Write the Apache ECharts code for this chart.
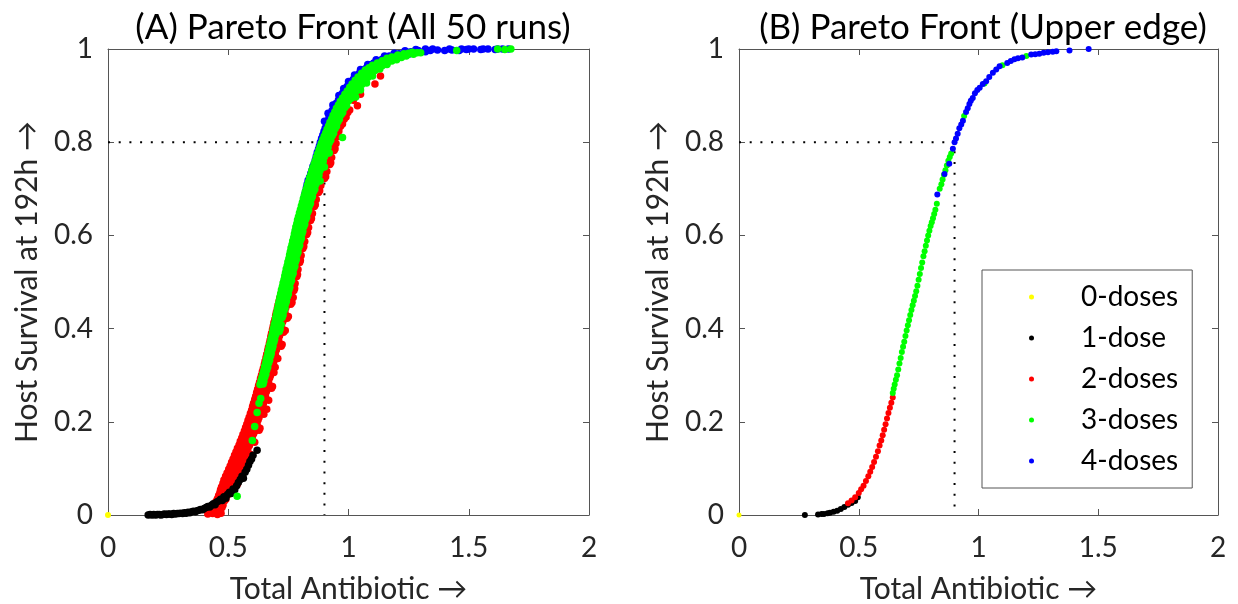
<!DOCTYPE html>
<html>
<head>
<meta charset="utf-8">
<script src="https://cdn.jsdelivr.net/npm/echarts@6/dist/echarts.min.js"></script>
<style>
html,body{margin:0;padding:0;background:#fff;}
#chart{width:1238px;height:604px;}
</style>
</head>
<body>
<div id="chart"></div>
<script>
// ---------- Data ----------
const seriesNames = ['0-doses', '1-dose', '2-doses', '3-doses', '4-doses'];
const titleA = '(A) Pareto Front (All 50 runs)';
const titleB = '(B) Pareto Front (Upper edge)';
const xAxisName = 'Total Antibiotic \u2192';
const yAxisName = 'Host Survival at 192h \u2192';
const xTicks = [0, 0.5, 1, 1.5, 2];
const yTicks = [0, 0.2, 0.4, 0.6, 0.8, 1];
const refX = 0.9;
const refY = 0.8;

// Panel A (all runs)
const leftZero = [[0, 0]];
const leftOne = [
  [0.167,0.000],[0.175,0.001],[0.183,0.000],[0.19,0.001],[0.198,0.000],[0.205,0.001],[0.213,0.001],[0.22,0.000],
  [0.228,0.001],[0.235,0.002],[0.243,0.001],[0.25,0.002],[0.258,0.002],[0.265,0.001],[0.273,0.003],[0.28,0.002],
  [0.288,0.003],[0.295,0.003],[0.303,0.004],[0.31,0.003],[0.318,0.005],[0.325,0.004],[0.333,0.006],[0.34,0.005],
  [0.348,0.007],[0.355,0.008],[0.363,0.007],[0.37,0.009],[0.378,0.010],[0.385,0.012],[0.393,0.011],[0.40,0.014],
  [0.408,0.016],[0.415,0.018],[0.423,0.017],[0.43,0.021],[0.438,0.024],[0.445,0.022],[0.452,0.028],[0.46,0.030],
  [0.468,0.034],[0.475,0.031],[0.482,0.039],[0.49,0.036],[0.497,0.044],[0.505,0.049],[0.512,0.046],[0.52,0.056],
  [0.527,0.054],[0.535,0.063],[0.542,0.07],[0.55,0.076],[0.557,0.083],[0.563,0.079],[0.57,0.092],[0.577,0.098],
  [0.584,0.107],[0.59,0.115],[0.597,0.12],[0.603,0.128],[0.62,0.139]
];
const leftTwo = [
  [0.415,0.002],[0.435,0.003],[0.455,0.001],[0.47,0.004],
  [0.43,0.012],[0.45,0.013],[0.468,0.011],
  [0.44,0.022],[0.46,0.023],[0.478,0.021],
  [0.455,0.035],[0.472,0.036],[0.49,0.034],
  [0.465,0.048],[0.485,0.049],[0.503,0.047],
  [0.472,0.06],[0.495,0.061],[0.515,0.059],
  [0.482,0.075],[0.505,0.076],[0.528,0.074],[0.545,0.077],
  [0.495,0.09],[0.518,0.091],[0.54,0.089],
  [0.508,0.105],[0.53,0.106],[0.552,0.104],
  [0.52,0.12],[0.542,0.121],[0.565,0.119],[0.585,0.122],
  [0.532,0.135],[0.553,0.136],[0.575,0.134],
  [0.545,0.15],[0.565,0.151],[0.588,0.149],
  [0.556,0.165],[0.577,0.166],[0.6,0.164],
  [0.567,0.18],[0.588,0.181],[0.61,0.179],[0.628,0.182],
  [0.577,0.195],[0.598,0.196],[0.62,0.194],
  [0.587,0.21],[0.607,0.211],[0.628,0.209],
  [0.597,0.225],[0.617,0.226],[0.637,0.224],[0.66,0.227],
  [0.605,0.24],[0.625,0.241],[0.646,0.239],
  [0.614,0.255],[0.634,0.256],[0.655,0.254],
  [0.622,0.27],[0.642,0.271],[0.662,0.269],[0.68,0.272],
  [0.63,0.285],[0.65,0.286],[0.668,0.284],
  [0.638,0.30],[0.657,0.301],[0.675,0.299],
  [0.646,0.315],[0.664,0.316],[0.682,0.314],[0.695,0.317],
  [0.653,0.33],[0.671,0.331],[0.689,0.329],
  [0.66,0.345],[0.678,0.346],[0.696,0.344],
  [0.667,0.36],[0.685,0.361],[0.703,0.359],[0.72,0.362],
  [0.674,0.375],[0.692,0.376],[0.71,0.374],
  [0.68,0.39],[0.698,0.391],[0.716,0.389],[0.73,0.392],
  [0.687,0.405],[0.705,0.406],[0.722,0.404],
  [0.694,0.42],[0.712,0.421],[0.73,0.419],[0.745,0.422],
  [0.7,0.435],[0.718,0.436],[0.736,0.434],
  [0.707,0.45],[0.725,0.451],[0.742,0.449],[0.76,0.452],
  [0.714,0.465],[0.732,0.466],[0.75,0.464],[0.77,0.467],
  [0.722,0.48],[0.74,0.481],[0.757,0.479],[0.773,0.482],
  [0.73,0.495],[0.748,0.496],[0.764,0.494],[0.778,0.497],
  [0.738,0.51],[0.756,0.511],[0.771,0.509],[0.785,0.512],
  [0.746,0.525],[0.763,0.526],[0.778,0.524],[0.79,0.527],
  [0.755,0.54],[0.77,0.541],[0.784,0.539],[0.797,0.542],
  [0.763,0.555],[0.777,0.556],[0.79,0.554],[0.803,0.557],
  [0.77,0.57],[0.784,0.571],[0.797,0.569],[0.81,0.572],
  [0.777,0.585],[0.791,0.586],[0.804,0.584],[0.818,0.587],
  [0.784,0.60],[0.798,0.601],[0.812,0.599],[0.826,0.602],
  [0.792,0.615],[0.806,0.616],[0.82,0.614],[0.834,0.617],
  [0.8,0.63],[0.814,0.631],[0.828,0.629],[0.842,0.632],
  [0.808,0.645],[0.822,0.646],[0.836,0.644],[0.85,0.647],
  [0.816,0.66],[0.83,0.661],[0.844,0.659],[0.858,0.662],
  [0.824,0.675],[0.838,0.676],[0.852,0.674],[0.866,0.677],
  [0.833,0.69],[0.847,0.691],[0.861,0.689],[0.875,0.692],
  [0.842,0.705],[0.856,0.706],[0.87,0.704],[0.885,0.707],
  [0.852,0.72],[0.866,0.721],[0.88,0.719],[0.9,0.722],
  [0.862,0.735],[0.876,0.736],[0.89,0.734],[0.91,0.737],
  [0.872,0.75],[0.886,0.751],[0.9,0.749],[0.922,0.752],
  [0.882,0.765],[0.896,0.766],[0.91,0.764],[0.93,0.767],
  [0.893,0.78],[0.907,0.781],[0.92,0.779],[0.94,0.782],
  [0.905,0.795],[0.918,0.796],[0.93,0.794],[0.948,0.797],
  [0.918,0.81],[0.93,0.811],[0.943,0.809],[0.958,0.812],
  [0.93,0.825],[0.945,0.826],[0.96,0.824],
  [0.945,0.84],[0.96,0.841],[0.975,0.839],
  [0.96,0.855],[0.975,0.856],[0.99,0.854],
  [0.975,0.87],[0.99,0.871],[1.005,0.869],
  [1.02,0.89],[1.037,0.878],[1.05,0.903],[1.11,0.925],[1.133,0.942],
  [0.425,0.006],[0.447,0.008],[0.462,0.005],
  [0.437,0.017],[0.458,0.018],[0.474,0.016],
  [0.449,0.029],[0.466,0.028],[0.484,0.03],
  [0.46,0.042],[0.479,0.041],[0.497,0.043],
  [0.468,0.054],[0.49,0.055],[0.509,0.053],
  [0.478,0.068],[0.5,0.067],[0.52,0.069],[0.538,0.066],
  [0.489,0.083],[0.512,0.084],[0.534,0.082],
  [0.502,0.098],[0.524,0.099],[0.546,0.097],[0.563,0.1],
  [0.514,0.113],[0.536,0.112],[0.558,0.114],
  [0.526,0.128],[0.548,0.127],[0.57,0.129],[0.59,0.131],
  [0.538,0.143],[0.56,0.142],[0.582,0.144],
  [0.55,0.158],[0.571,0.157],[0.594,0.159],[0.61,0.156],
  [0.561,0.173],[0.583,0.172],[0.605,0.174],
  [0.572,0.188],[0.593,0.187],[0.615,0.189],[0.632,0.186],
  [0.582,0.203],[0.602,0.202],[0.624,0.204],
  [0.592,0.218],[0.612,0.217],[0.633,0.219],[0.648,0.216],
  [0.601,0.233],[0.621,0.232],[0.642,0.234],
  [0.61,0.248],[0.63,0.247],[0.65,0.249],[0.668,0.246],
  [0.618,0.263],[0.638,0.262],[0.658,0.264],
  [0.626,0.278],[0.646,0.277],[0.665,0.279],[0.684,0.276],
  [0.634,0.293],[0.654,0.292],[0.672,0.294],
  [0.642,0.308],[0.66,0.307],[0.679,0.309],[0.69,0.306],
  [0.65,0.323],[0.668,0.322],[0.686,0.324],
  [0.657,0.338],[0.675,0.337],[0.693,0.339],[0.706,0.336],
  [0.664,0.353],[0.682,0.352],[0.7,0.354],
  [0.671,0.368],[0.689,0.367],[0.707,0.369],[0.724,0.366],
  [0.677,0.383],[0.695,0.382],[0.713,0.384],
  [0.684,0.398],[0.702,0.397],[0.719,0.399],[0.737,0.396],
  [0.69,0.413],[0.708,0.412],[0.726,0.414],
  [0.697,0.428],[0.715,0.427],[0.733,0.429],[0.75,0.426],
  [0.704,0.443],[0.722,0.442],[0.739,0.444],
  [0.711,0.458],[0.729,0.457],[0.746,0.459],[0.765,0.456],
  [0.718,0.473],[0.736,0.472],[0.753,0.474],
  [0.726,0.488],[0.744,0.487],[0.761,0.489],[0.776,0.486],
  [0.734,0.503],[0.752,0.502],[0.768,0.504],
  [0.742,0.518],[0.76,0.517],[0.775,0.519],[0.788,0.516],
  [0.75,0.533],[0.767,0.532],[0.781,0.534],
  [0.759,0.548],[0.774,0.547],[0.787,0.549],[0.8,0.546],
  [0.767,0.563],[0.781,0.562],[0.794,0.564],
  [0.774,0.578],[0.788,0.577],[0.801,0.579],[0.814,0.576],
  [0.781,0.593],[0.795,0.592],[0.808,0.594],
  [0.788,0.608],[0.802,0.607],[0.816,0.609],[0.83,0.606],
  [0.796,0.623],[0.81,0.622],[0.824,0.624],
  [0.804,0.638],[0.818,0.637],[0.832,0.639],[0.846,0.636],
  [0.812,0.653],[0.826,0.652],[0.84,0.654],
  [0.82,0.668],[0.834,0.667],[0.848,0.669],[0.862,0.666],
  [0.829,0.683],[0.843,0.682],[0.857,0.684],
  [0.838,0.698],[0.852,0.697],[0.866,0.699],[0.88,0.696],
  [0.847,0.713],[0.861,0.712],[0.875,0.714],
  [0.857,0.728],[0.871,0.727],[0.885,0.729],[0.905,0.726],
  [0.867,0.743],[0.881,0.742],[0.895,0.744],
  [0.877,0.758],[0.891,0.757],[0.905,0.759],[0.926,0.756],
  [0.888,0.773],[0.902,0.772],[0.915,0.774],
  [0.899,0.788],[0.912,0.787],[0.925,0.789],[0.944,0.786],
  [0.911,0.803],[0.924,0.802],[0.937,0.804],
  [0.924,0.818],[0.937,0.817],[0.95,0.819],
  [0.938,0.833],[0.952,0.832],[0.967,0.834],
  [0.952,0.848],[0.967,0.847],[0.982,0.849],
  [0.968,0.863],[0.982,0.862],[0.997,0.864]
];
const leftThree = [
  [0.537,0.04],[0.6,0.16],[0.61,0.19],[0.62,0.22],[0.628,0.24],[0.635,0.25],
  [0.632,0.28],[0.645,0.281],[0.64,0.295],[0.652,0.296],[0.648,0.31],[0.66,0.311],
  [0.655,0.325],[0.668,0.326],[0.662,0.34],[0.676,0.341],[0.668,0.355],[0.683,0.356],
  [0.675,0.37],[0.69,0.371],[0.682,0.385],[0.697,0.386],
  [0.688,0.40],[0.704,0.401],[0.716,0.399],[0.695,0.415],[0.71,0.416],
  [0.7,0.43],[0.716,0.431],[0.728,0.429],[0.706,0.445],[0.722,0.446],[0.736,0.444],
  [0.712,0.46],[0.728,0.461],[0.742,0.459],[0.718,0.475],[0.735,0.476],[0.75,0.474],
  [0.725,0.49],[0.742,0.491],[0.756,0.489],[0.732,0.505],[0.749,0.506],[0.763,0.504],
  [0.738,0.52],[0.755,0.521],[0.77,0.519],[0.745,0.535],[0.762,0.536],[0.777,0.534],
  [0.752,0.55],[0.768,0.551],[0.783,0.549],[0.758,0.565],[0.775,0.566],[0.79,0.564],
  [0.765,0.58],[0.781,0.581],[0.797,0.579],[0.772,0.595],[0.788,0.596],[0.804,0.594],
  [0.778,0.61],[0.795,0.611],[0.81,0.609],[0.785,0.625],[0.802,0.626],[0.818,0.624],
  [0.792,0.64],[0.809,0.641],[0.826,0.639],[0.8,0.655],[0.817,0.656],[0.834,0.654],
  [0.808,0.67],[0.825,0.671],[0.842,0.669],[0.816,0.685],[0.833,0.686],[0.85,0.684],
  [0.825,0.70],[0.842,0.701],[0.86,0.699],
  [0.834,0.715],[0.851,0.716],[0.868,0.714],[0.882,0.717],
  [0.843,0.73],[0.86,0.731],[0.877,0.729],
  [0.852,0.745],[0.869,0.746],[0.886,0.744],[0.9,0.747],
  [0.862,0.76],[0.879,0.761],[0.895,0.759],
  [0.872,0.775],[0.889,0.776],[0.905,0.774],[0.92,0.777],
  [0.882,0.79],[0.899,0.791],[0.915,0.789],
  [0.893,0.805],[0.91,0.806],[0.926,0.804],
  [0.905,0.82],[0.921,0.821],[0.938,0.819],
  [0.917,0.835],[0.933,0.836],[0.95,0.834],
  [0.93,0.85],[0.946,0.851],[0.962,0.849],
  [0.943,0.865],[0.96,0.866],[0.976,0.864],
  [0.958,0.88],[0.975,0.881],[0.992,0.879],
  [0.975,0.895],[0.992,0.896],[1.01,0.894],[1.03,0.897],
  [0.995,0.91],[1.012,0.911],[1.03,0.909],[1.05,0.912],
  [1.015,0.925],[1.035,0.926],[1.055,0.924],[1.075,0.927],
  [1.04,0.94],[1.06,0.941],[1.08,0.939],[1.1,0.942],
  [1.07,0.955],[1.09,0.956],[1.11,0.954],[1.13,0.957],
  [1.1,0.965],[1.12,0.966],[1.14,0.964],[1.16,0.967],
  [1.14,0.975],[1.16,0.976],[1.18,0.974],[1.2,0.977],
  [1.18,0.983],[1.2,0.984],[1.22,0.982],[1.24,0.985],
  [1.23,0.99],[1.25,0.991],[1.27,0.989],[1.3,0.992],
  [1.45,0.997],[1.62,1.0],[1.65,0.999],[1.675,1.0],
  [0.975,0.81],[0.94,0.83],
  [0.636,0.288],[0.648,0.287],[0.644,0.303],[0.656,0.302],[0.651,0.318],[0.664,0.317],
  [0.658,0.333],[0.672,0.332],[0.665,0.348],[0.679,0.347],[0.671,0.363],[0.686,0.362],
  [0.678,0.378],[0.693,0.377],[0.685,0.393],[0.7,0.392],[0.712,0.394],
  [0.691,0.408],[0.707,0.407],[0.72,0.409],[0.697,0.423],[0.713,0.422],[0.724,0.424],
  [0.703,0.438],[0.719,0.437],[0.732,0.439],[0.709,0.453],[0.725,0.452],[0.739,0.454],
  [0.715,0.468],[0.731,0.467],[0.746,0.469],[0.721,0.483],[0.738,0.482],[0.753,0.484],
  [0.728,0.498],[0.745,0.497],[0.759,0.499],[0.735,0.513],[0.752,0.512],[0.766,0.514],
  [0.741,0.528],[0.758,0.527],[0.773,0.529],[0.748,0.543],[0.765,0.542],[0.78,0.544],
  [0.755,0.558],[0.771,0.557],[0.786,0.559],[0.761,0.573],[0.778,0.572],[0.793,0.574],
  [0.768,0.588],[0.784,0.587],[0.8,0.589],[0.775,0.603],[0.791,0.602],[0.807,0.604],
  [0.781,0.618],[0.798,0.617],[0.814,0.619],[0.788,0.633],[0.805,0.632],[0.822,0.634],
  [0.796,0.648],[0.813,0.647],[0.83,0.649],[0.804,0.663],[0.821,0.662],[0.838,0.664],
  [0.812,0.678],[0.829,0.677],[0.846,0.679],[0.82,0.693],[0.837,0.692],[0.855,0.694],
  [0.829,0.708],[0.846,0.707],[0.864,0.709],[0.838,0.723],[0.855,0.722],[0.872,0.724],
  [0.847,0.738],[0.864,0.737],[0.881,0.739],[0.857,0.753],[0.874,0.752],[0.89,0.754],
  [0.867,0.768],[0.884,0.767],[0.9,0.769],[0.877,0.783],[0.894,0.782],[0.91,0.784],
  [0.887,0.798],[0.904,0.797],[0.92,0.799],[0.899,0.813],[0.915,0.812],[0.932,0.814],
  [0.911,0.828],[0.927,0.827],[0.944,0.829],[0.923,0.843],[0.94,0.842],[0.956,0.844],
  [0.936,0.858],[0.953,0.857],[0.969,0.859],[0.95,0.873],[0.967,0.872],[0.984,0.874],
  [0.966,0.888],[0.983,0.887],[1.0,0.889],[0.985,0.903],[1.002,0.902],[1.02,0.904],
  [1.005,0.918],[1.024,0.917],[1.043,0.919],[1.028,0.933],[1.048,0.932],[1.068,0.934],
  [1.055,0.948],[1.075,0.947],[1.095,0.949],[1.085,0.96],[1.105,0.961],[1.125,0.959],
  [1.12,0.97],[1.14,0.971],[1.16,0.969],[1.16,0.98],[1.18,0.979],[1.2,0.981],
  [1.205,0.987],[1.225,0.986],[1.245,0.988],[1.265,0.993],[1.285,0.992]
];
const leftFour = [
  [0.8,0.638],[0.803,0.65],[0.81,0.665],[0.815,0.68],[0.822,0.695],[0.828,0.71],[0.838,0.725],[0.848,0.74],
  [0.858,0.755],[0.868,0.756],[0.866,0.77],[0.876,0.771],[0.875,0.785],[0.886,0.786],
  [0.883,0.80],[0.895,0.801],[0.893,0.815],[0.905,0.816],[0.903,0.83],[0.915,0.831],
  [0.913,0.845],[0.926,0.846],[0.925,0.86],[0.938,0.861],
  [0.94,0.875],[0.953,0.876],[0.965,0.874],
  [0.958,0.89],[0.97,0.891],[0.982,0.889],
  [0.975,0.905],[0.99,0.906],[1.0,0.904],
  [0.995,0.92],[1.01,0.921],[1.025,0.919],
  [1.02,0.935],[1.035,0.936],[1.05,0.934],
  [1.045,0.948],[1.06,0.949],[1.078,0.947],
  [1.075,0.96],[1.09,0.961],[1.105,0.959],
  [1.105,0.97],[1.12,0.971],[1.135,0.969],
  [1.14,0.978],[1.155,0.979],[1.17,0.977],
  [1.17,0.985],[1.19,0.986],[1.21,0.984],
  [1.21,0.99],[1.23,0.991],[1.25,0.989],
  [1.26,0.994],[1.28,0.995],[1.3,0.993],[1.32,0.994],
  [1.34,0.997],[1.37,0.998],[1.4,0.997],[1.43,0.998],[1.46,0.997],
  [1.49,0.999],[1.52,1.0],[1.55,0.999],[1.58,1.0],[1.61,0.999],[1.64,1.0],[1.665,1.0],
  [0.805,0.645],[0.807,0.658],[0.812,0.672],[0.818,0.688],[0.825,0.702],[0.832,0.718],[0.843,0.733],
  [0.852,0.748],[0.862,0.762],[0.87,0.778],[0.879,0.792],[0.888,0.808],[0.898,0.823],[0.908,0.838],
  [0.919,0.853],[0.932,0.868],[0.948,0.883],[0.965,0.898],[0.985,0.913],[1.008,0.928],[1.032,0.942],
  [1.06,0.955],[1.09,0.966],[1.125,0.975],[1.16,0.982],[1.2,0.988],[1.245,0.993],[1.29,0.997],
  [1.35,1.0],[1.42,1.0],[1.47,1.0],[1.5,1.0],[1.56,1.0],[1.62,1.0],
  [0.9,0.845],[0.915,0.862],[0.935,0.88],[0.96,0.9],[0.98,0.915],[1.0,0.93],[1.025,0.944],
  [1.05,0.956],[1.08,0.967],[1.115,0.977],[1.15,0.985],[1.19,0.991],[1.235,0.996],[1.28,0.999],[1.32,1.0]
];

// Panel B (upper edge)
const rightZero = [[0, 0]];
const rightOne = [
  [0.275,0.0],[0.33,0.001],[0.345,0.002],[0.355,0.002],[0.37,0.004],[0.38,0.005],[0.395,0.007],
  [0.41,0.009],[0.425,0.013],[0.44,0.017],[0.455,0.022],[0.47,0.026],[0.485,0.03],[0.496,0.038]
];
const rightTwo = [
  [0.455,0.025],[0.47,0.031],[0.485,0.038],[0.5,0.047],[0.51,0.055],[0.52,0.063],[0.53,0.073],
  [0.54,0.083],[0.548,0.093],[0.556,0.103],[0.564,0.114],[0.572,0.125],[0.58,0.137],[0.587,0.149],
  [0.594,0.16],[0.6,0.171],[0.606,0.183],[0.612,0.195],[0.618,0.207],[0.624,0.219],[0.63,0.23],
  [0.636,0.241],[0.642,0.252]
];
const rightThree = [
  [0.642,0.262],[0.646,0.271],[0.65,0.28],[0.655,0.29],[0.66,0.3],[0.665,0.312],[0.67,0.325],
  [0.675,0.337],[0.68,0.35],[0.685,0.361],[0.69,0.372],[0.695,0.384],[0.70,0.396],[0.705,0.407],
  [0.71,0.418],[0.715,0.429],[0.72,0.44],[0.725,0.45],[0.73,0.46],[0.735,0.47],[0.74,0.48],
  [0.745,0.492],[0.75,0.505],[0.755,0.517],[0.76,0.53],[0.765,0.542],[0.77,0.555],[0.775,0.566],
  [0.78,0.578],[0.785,0.589],[0.79,0.6],[0.795,0.61],[0.80,0.62],[0.805,0.628],[0.81,0.637],
  [0.815,0.646],[0.82,0.655],[0.826,0.668],
  [0.838,0.70],[0.845,0.71],[0.85,0.72],[0.856,0.73],[0.862,0.74],[0.868,0.75],[0.874,0.76],
  [0.88,0.768],[0.886,0.776],[0.94,0.856],[1.025,0.926],[1.1,0.965],[1.2,0.985]
];
const rightFour = [
  [0.828,0.688],[0.858,0.732],[0.878,0.754],
  [0.893,0.786],[0.9,0.8],[0.906,0.808],[0.913,0.818],[0.92,0.83],[0.928,0.838],[0.935,0.846],
  [0.948,0.865],[0.955,0.873],[0.962,0.882],[0.968,0.889],[0.976,0.895],[0.985,0.905],
  [0.995,0.912],[1.005,0.917],[1.018,0.925],[1.032,0.931],[1.045,0.94],[1.06,0.949],[1.074,0.956],
  [1.088,0.963],[1.12,0.97],[1.135,0.974],[1.15,0.978],[1.165,0.98],[1.183,0.982],
  [1.22,0.988],[1.237,0.989],[1.254,0.99],[1.272,0.992],[1.29,0.993],[1.31,0.994],[1.325,0.995],
  [1.38,0.997],[1.46,1.0]
];

// ---------- Chart ----------
const colors = {'0-doses':'#FFFF00','1-dose':'#000000','2-doses':'#FF0000','3-doses':'#00FF00','4-doses':'#0000FF'};
const FONT = 'Lato';
const TXT = '#262626';
const AX = '#555555';

const grids = [
  {left:108, top:49, width:481, height:466, containLabel:false, outerBoundsMode:'none'},
  {left:739, top:49, width:479, height:466, containLabel:false, outerBoundsMode:'none'}
];

function xAxes(g){
  return [
    {gridIndex:g, type:'value', min:xTicks[0], max:xTicks[xTicks.length-1], interval:xTicks[1]-xTicks[0],
     position:'bottom', name:xAxisName, nameLocation:'middle', nameGap:59,
     nameTextStyle:{fontFamily:FONT, fontSize:30, color:TXT},
     axisLine:{show:true, onZero:false, lineStyle:{color:AX, width:1}},
     axisTick:{show:true, inside:true, length:6, lineStyle:{color:AX}},
     axisLabel:{fontFamily:FONT, fontSize:28, color:TXT, margin:19},
     splitLine:{show:false}},
    {gridIndex:g, type:'value', min:xTicks[0], max:xTicks[xTicks.length-1], interval:xTicks[1]-xTicks[0],
     position:'top',
     axisLine:{show:true, onZero:false, lineStyle:{color:AX, width:1}},
     axisTick:{show:true, inside:true, length:6, lineStyle:{color:AX}},
     axisLabel:{show:false}, splitLine:{show:false}}
  ];
}
function yAxes(g){
  return [
    {gridIndex:g, type:'value', min:yTicks[0], max:yTicks[yTicks.length-1], interval:yTicks[1]-yTicks[0],
     position:'left', name:yAxisName, nameLocation:'middle', nameGap:66, nameRotate:90,
     nameTextStyle:{fontFamily:FONT, fontSize:30, color:TXT},
     axisLine:{show:true, onZero:false, lineStyle:{color:AX, width:1}},
     axisTick:{show:true, inside:true, length:6, lineStyle:{color:AX}},
     axisLabel:{fontFamily:FONT, fontSize:28, color:TXT, margin:15},
     splitLine:{show:false}},
    {gridIndex:g, type:'value', min:yTicks[0], max:yTicks[yTicks.length-1], interval:yTicks[1]-yTicks[0],
     position:'right',
     axisLine:{show:true, onZero:false, lineStyle:{color:AX, width:1}},
     axisTick:{show:true, inside:true, length:6, lineStyle:{color:AX}},
     axisLabel:{show:false}, splitLine:{show:false}}
  ];
}

function scatter(name, data, g, size){
  return {name:name, type:'scatter', xAxisIndex:g*2, yAxisIndex:g*2, data:data,
    symbol:'circle', symbolSize:size, itemStyle:{color:colors[name], opacity:1, borderWidth:0},
    emphasis:{disabled:true}, silent:true, animation:false};
}
function refLine(g){
  return {type:'line', xAxisIndex:g*2, yAxisIndex:g*2, data:[[xTicks[0],refY],[refX,refY],[refX,yTicks[0]]],
    symbol:'none', lineStyle:{color:'#000', width:2, type:[2,8.7]}, silent:true, animation:false, z:1};
}

const option = {
  backgroundColor:'#ffffff',
  animation:false,
  title:[
    {text:titleA, left:348, top:5, textAlign:'center', textStyle:{fontFamily:FONT, fontSize:35, fontWeight:'normal', color:'#000'}},
    {text:titleB, left:978, top:5, textAlign:'center', textStyle:{fontFamily:FONT, fontSize:35, fontWeight:'normal', color:'#000'}}
  ],
  grid:grids,
  xAxis:[...xAxes(0), ...xAxes(1)],
  yAxis:[...yAxes(0), ...yAxes(1)],
  legend:{
    data:seriesNames, orient:'vertical', left:982, top:270,
    selectedMode:false, icon:'circle', itemWidth:5, itemHeight:5, itemGap:13,
    backgroundColor:'#fff', borderColor:'#555', borderWidth:1,
    padding:[13,14,13,47],
    textStyle:{fontFamily:FONT, fontSize:28, color:'#000', lineHeight:28, padding:[0,0,0,42]}
  },
  series:[
    refLine(0), refLine(1),
    scatter('2-doses', leftTwo, 0, 7.5),
    scatter('1-dose', leftOne, 0, 7.5),
    scatter('4-doses', leftFour, 0, 7.5),
    scatter('3-doses', leftThree, 0, 7.5),
    scatter('0-doses', leftZero, 0, 6),
    scatter('1-dose', rightOne, 1, 6),
    scatter('2-doses', rightTwo, 1, 6),
    scatter('3-doses', rightThree, 1, 6),
    scatter('4-doses', rightFour, 1, 6),
    scatter('0-doses', rightZero, 1, 5)
  ]
};
const chart = echarts.init(document.getElementById('chart'), null, {renderer:'canvas'});
chart.setOption(option);
</script>
</body>
</html>
